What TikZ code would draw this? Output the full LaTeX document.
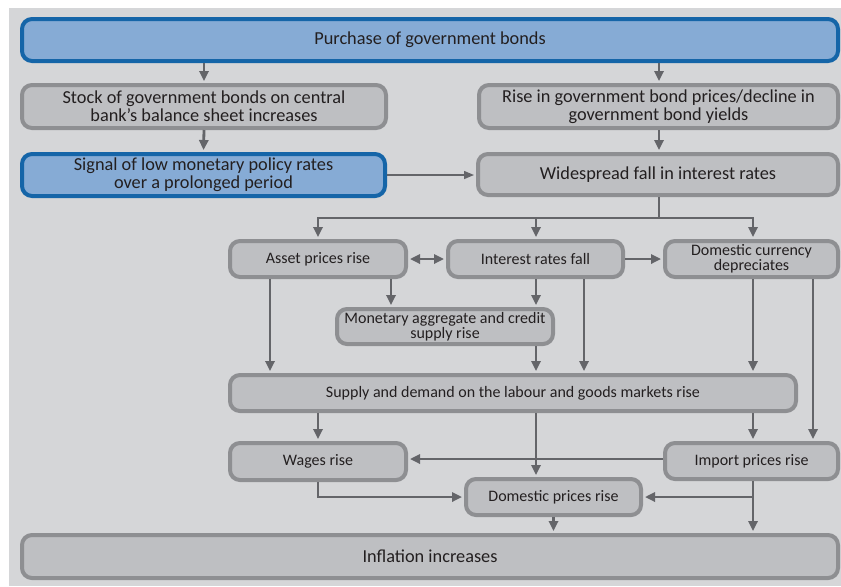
\documentclass[tikz,border=0pt]{standalone}
\usepackage{fontspec}
\setmainfont{Carlito}
\usetikzlibrary{arrows.meta,calc}
\definecolor{panel}{HTML}{D5D6D8}
\definecolor{boxfill}{HTML}{BEBFC2}
\definecolor{boxline}{HTML}{8E8F92}
\definecolor{bluefill}{HTML}{86ABD5}
\definecolor{blueline}{HTML}{1565A8}
\definecolor{arrc}{HTML}{646569}
\definecolor{txt}{HTML}{231F20}
\tikzset{
  box/.style={draw=boxline, fill=boxfill, line width=2pt, rounded corners=5pt, inner sep=0pt,
    align=center, text=txt, font=\fontsize{8}{7.6}\selectfont},
  bigbox/.style={box, font=\fontsize{9.15}{9}\selectfont},
  bluebox/.style={bigbox, draw=blueline, fill=bluefill},
  arr/.style={draw=arrc, line width=1.4pt, -{Triangle[length=5pt,width=4.6pt]}, shorten >=1pt},
  dblarr/.style={draw=arrc, line width=1.4pt, {Triangle[length=5pt,width=4.6pt]}-{Triangle[length=5pt,width=4.6pt]}, shorten >=1pt, shorten <=1pt},
  thinarr/.style={draw=arrc, line width=0.7pt, -{Triangle[length=5pt,width=4pt]}, shorten >=1pt},
  plain/.style={draw=arrc, line width=1.4pt}
}
\begin{document}
\begin{tikzpicture}[x=0.5pt,y=-0.5pt]
\useasboundingbox (0,0) rectangle (841,586);
\fill[white] (0,0) rectangle (841,586);
\fill[panel] (9,8) rectangle (841,586);

\node[bluebox, minimum width=408pt, minimum height=21pt] (P) at (430,40) {Purchase of government bonds};
\node[bigbox, minimum width=182pt, minimum height=21.5pt] (S) at (204,106.5) {Stock of government bonds on central\\bank’s balance sheet increases};
\node[bluebox, minimum width=181.5pt, minimum height=21pt] (G) at (203.5,175) {Signal of low monetary policy rates\\over a prolonged period};
\node[bigbox, minimum width=179.5pt, minimum height=21.5pt] (R) at (658.5,106.5) {Rise in government bond prices/decline in\\government bond yields};
\node[bigbox, minimum width=180pt, minimum height=20.5pt] (W) at (658,174.5) {Widespread fall in interest rates};

\node[box, minimum width=88pt, minimum height=18pt] (A) at (318,259) {Asset prices rise};
\node[box, minimum width=87.5pt, minimum height=18pt] (I) at (535.5,259) {Interest rates fall};
\node[box, minimum width=86.5pt, minimum height=18pt] (D) at (751.5,259) {Domestic currency\\depreciates};
\node[box, minimum width=108pt, minimum height=17.5pt] (M) at (445,326.5) {Monetary aggregate and credit\\supply rise};
\node[box, minimum width=283pt, minimum height=18pt] (SD) at (513,393) {Supply and demand on the labour and goods markets rise};
\node[box, minimum width=88pt, minimum height=18.5pt] (Wg) at (318,461.5) {Wages rise};
\node[box, minimum width=86.5pt, minimum height=18pt] (Im) at (751.5,461) {Import prices rise};
\node[box, minimum width=87.5pt, minimum height=18pt] (Dp) at (553.5,497) {Domestic prices rise};
\node[bigbox, minimum width=408pt, minimum height=21.5pt] (Inf) at (430,556.5) {Inflation increases};

\coordinate (j1) at (659,218);
\coordinate (xAM) at (391,0);
\coordinate (xA1) at (270,0);
\coordinate (xI) at (536,0);
\coordinate (xI2) at (584,0);
\coordinate (xD) at (753,0);
\coordinate (xD2) at (813,0);
\coordinate (xW) at (659,0);

\draw[arr] (S.north |- P.south) -- (S.north);
\draw[arr] (xW |- P.south) -- (xW |- R.north);
\draw[arr] (S.south) -- (G.north);
\draw[arr] (xW |- R.south) -- (xW |- W.north);
\draw[thinarr] (G.east) -- (G.east -| W.west);

\draw[plain] (xW |- W.south) -- (j1);
\draw[arr] (j1) -| (A.north);
\draw[arr] (j1) -| (xD |- D.north);
\draw[arr] (j1 -| xI) -- (xI |- I.north);

\draw[dblarr] (A.east) -- (I.west);
\draw[arr] (I.east) -- (D.west);

\draw[arr] (xAM |- A.south) -- (xAM |- M.north);
\draw[arr] (xI |- I.south) -- (xI |- M.north);
\draw[arr] (xA1 |- A.south) -- (xA1 |- SD.north);
\draw[arr] (xI2 |- I.south) -- (xI2 |- SD.north);
\draw[arr] (xI |- M.south) -- (xI |- SD.north);
\draw[arr] (xD |- D.south) -- (xD |- SD.north);
\draw[arr] (xD2 |- D.south) -- (xD2 |- Im.north);

\draw[arr] (Wg.north |- SD.south) -- (Wg.north);
\draw[arr] (xI |- SD.south) -- (xI |- Dp.north);
\draw[arr] (xD |- SD.south) -- (xD |- Im.north);
\draw[arr] ([yshift=1pt]Im.west) -- ([yshift=1pt]Im.west -| Wg.east);
\draw[arr] (Wg.south) |- (Dp.west);
\draw[arr] (xD |- Im.south) |- (Dp.east);
\draw[arr] (xD |- Im.south) -- (xD |- Inf.north);
\draw[arr] (Dp.south) -- (Dp.south |- Inf.north);
\end{tikzpicture}
\end{document}
